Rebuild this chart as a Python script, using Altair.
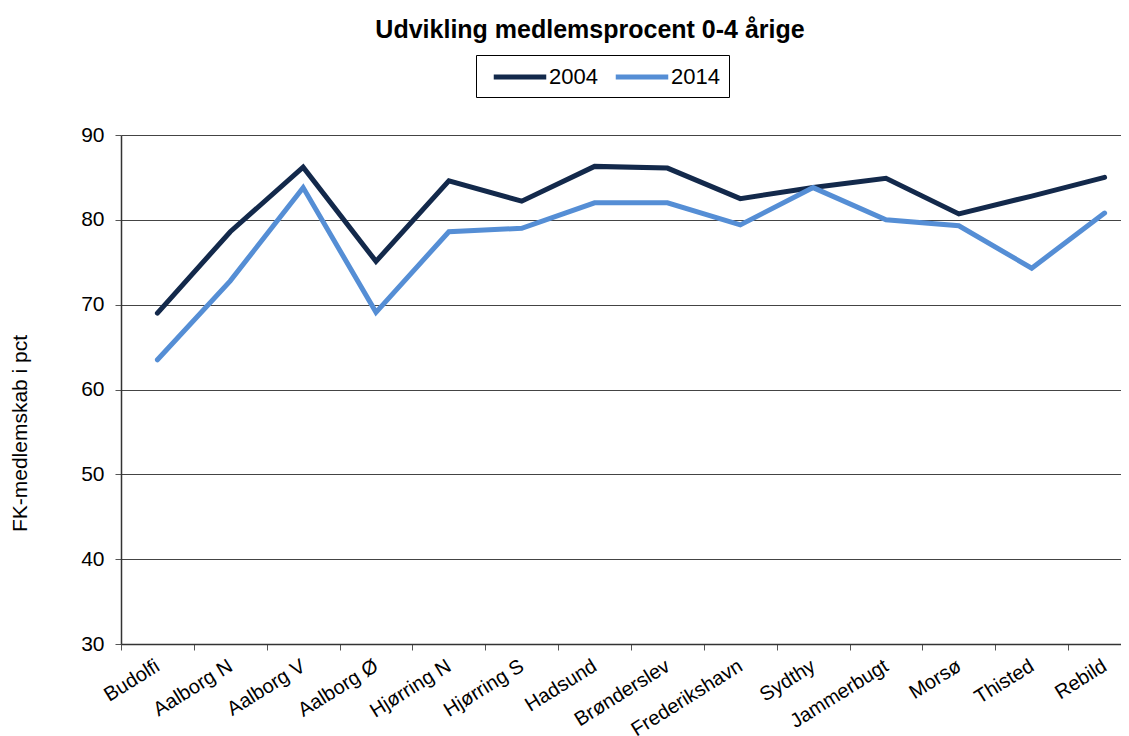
import altair as alt
import pandas as pd

categories = ["Budolfi", "Aalborg N", "Aalborg V", "Aalborg Ø", "Hjørring N", "Hjørring S",
              "Hadsund", "Brønderslev", "Frederikshavn", "Sydthy", "Jammerbugt", "Morsø",
              "Thisted", "Rebild"]
values_2004 = [69.0, 78.6, 86.2, 75.1, 84.6, 82.2, 86.3, 86.1, 82.5, 83.8, 84.9, 80.7, 82.8, 85.0]
values_2014 = [63.5, 72.8, 83.8, 69.1, 78.6, 79.0, 82.0, 82.0, 79.4, 83.8, 80.0, 79.3, 74.3, 80.8]
series = ["2004", "2014"]
colors = ["#13294B", "#558ED5"]

rows = []
for s, vals in zip(series, [values_2004, values_2014]):
    for c, v in zip(categories, vals):
        rows.append({"Kreds": c, "Aar": s, "Pct": v})
df = pd.DataFrame(rows)

FONT = "Liberation Sans"

chart = alt.Chart(df).mark_line(strokeWidth=5, strokeJoin="miter", strokeCap="round").encode(
    x=alt.X("Kreds:N", sort=categories, bandPosition=0.5,
            scale=alt.Scale(type="band", paddingInner=0, paddingOuter=0),
            axis=alt.Axis(title=None, tickBand="extent", labelAngle=328, labelAlign="right",
                          labelBaseline="middle", labelFontSize=20, labelFont=FONT,
                          labelColor="#000", labelPadding=14, tickSize=6, tickColor="#555",
                          domainColor="#333", domainWidth=1.5, grid=False, labelOverlap=False)),
    y=alt.Y("Pct:Q", scale=alt.Scale(domain=[30, 90], nice=False, zero=False),
            axis=alt.Axis(title="FK-medlemskab i pct", values=[30, 40, 50, 60, 70, 80, 90],
                          titleFont=FONT, titleFontSize=21, titleFontWeight="normal",
                          titleColor="#000", titlePadding=50, titleY=298,
                          labelFontSize=21, labelFont=FONT, labelColor="#000", labelPadding=11,
                          tickSize=6, tickColor="#555", domainColor="#333", domainWidth=1.5,
                          grid=True, gridColor="#444", gridWidth=1)),
    color=alt.Color("Aar:N", scale=alt.Scale(domain=series, range=colors),
                    legend=alt.Legend(title=None, orient="none", legendX=355, legendY=-80,
                                      direction="horizontal", strokeColor="#000",
                                      fillColor="#fff", padding=9,
                                      symbolType="M-2.5,0H2.5", symbolOffset=22,
                                      symbolStrokeWidth=5, symbolSize=441,
                                      labelFontSize=22, labelFont=FONT, labelColor="#000",
                                      columnPadding=7, labelOffset=16)),
).properties(
    width=1020,
    height=509,
    title=alt.TitleParams("Udvikling medlemsprocent 0-4 årige", font=FONT, fontSize=25,
                          fontWeight="bold", color="#000", anchor="middle", dx=-41, offset=12),
    padding={"left": 113, "top": 127, "right": -20, "bottom": 92},
    autosize=alt.AutoSizeParams(type="none"),
).configure_view(stroke=None)

chart.save("out.html", embed_options={"renderer": "svg", "actions": False})
